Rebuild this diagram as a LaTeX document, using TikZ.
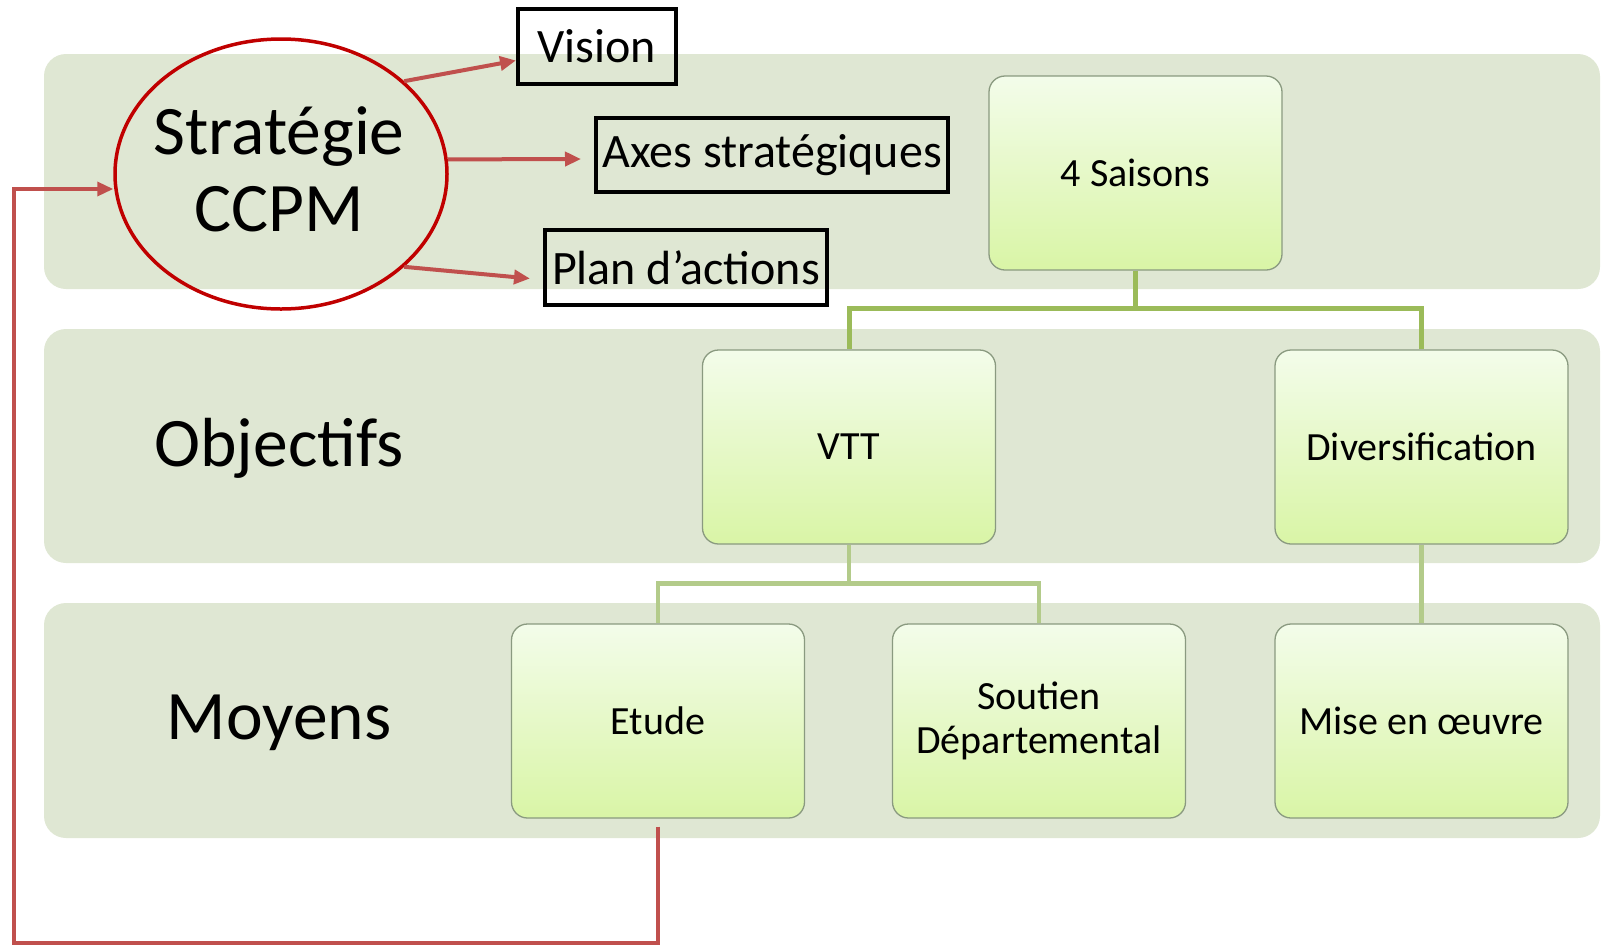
\documentclass[tikz,border=0pt]{standalone}
\usepackage{fontspec}
\setmainfont{Carlito}
\usetikzlibrary{shapes.geometric,arrows.meta,calc}
\definecolor{bandc}{HTML}{DFE7D3}
\definecolor{redc}{HTML}{C00000}
\definecolor{arrc}{HTML}{C0504D}
\definecolor{gone}{HTML}{9BBB59}
\definecolor{gtwo}{HTML}{B3CB8A}
\definecolor{boxtop}{HTML}{F3FCEA}
\definecolor{boxbot}{HTML}{D9F5A6}
\definecolor{boxline}{HTML}{8A9A80}
\tikzset{
  band/.style={fill=bandc, rounded corners=22pt},
  gbox/.style={draw=boxline, line width=1.3pt, rounded corners=16pt,
    top color=boxtop, bottom color=boxbot, minimum width=293pt,
    minimum height=194pt, inner sep=0pt, align=center,
    font=\fontsize{40}{44}\selectfont},
  tbox/.style={draw=black, line width=4pt, inner sep=0pt,
    font=\fontsize{48}{56}\selectfont},
  bigtxt/.style={font=\fontsize{69.5}{77}\selectfont, align=center},
  redarr/.style={draw=arrc, line width=4pt,
    -{Triangle[length=16pt,width=14pt]}},
  conone/.style={draw=gone, line width=5pt},
  contwo/.style={draw=gtwo, line width=4.5pt},
}
\begin{document}
\begin{tikzpicture}[x=1pt,y=-1pt]
\useasboundingbox (0,0) rectangle (1603,946);
% bands
\fill[band] (44,54) rectangle (1600,289);
\fill[band] (44,329) rectangle (1600,563);
\fill[band] (44,603) rectangle (1600,838);
% left labels
\node[draw=redc, line width=3.5pt, ellipse, minimum width=332pt,
  minimum height=270pt, inner sep=0pt] (strat) at (281,174) {};
\node[bigtxt] (strattxt) at (279,169) {Stratégie\\CCPM};
\node[bigtxt] (obj) at (279,448) {Objectifs};
\node[bigtxt] (moy) at (279,723) {Moyens};
% text boxes
\node[tbox, minimum width=158pt, minimum height=75pt] (vision) at (597,46.5) {Vision};
\node[tbox, minimum width=352pt, minimum height=74pt] (axes) at (772,155) {Axes stratégiques};
\node[tbox, minimum width=282pt, minimum height=75pt] (plan) at (686,267.5) {Plan d’actions};
% hierarchy boxes
\node[gbox] (saisons) at (1135.5,173) {4 Saisons};
\node[gbox] (vtt) at (849,447) {VTT};
\node[gbox] (div) at (1421.5,447) {Diversification};
\node[gbox] (etude) at (658,721) {Etude};
\node[gbox] (soutien) at (1039,721) {Soutien\\Départemental};
\node[gbox] (mise) at (1421.5,721) {Mise en œuvre};
% green connectors
\draw[conone] (saisons.south) -- ++(0,38) -| (vtt.north);
\draw[conone] (saisons.south) -- ++(0,38) -| (div.north);
\draw[contwo] (vtt.south) -- ++(0,39) -| (etude.north);
\draw[contwo] (vtt.south) -- ++(0,39) -| (soutien.north);
\draw[contwo] (div.south) -- (mise.north);
% red arrows
\draw[redarr] (strat.37) -- ($(vision.west)+(0,14)$);
\draw[redarr] (strat.5) -- ($(axes.west)+(-13,4)$);
\draw[redarr] (strat.-37) -- ($(plan.west)+(-13,11)$);
% feedback
\coordinate (fbl) at (14,943);
\coordinate (fbt) at (14,189);
\draw[redarr, line width=3.5pt] ($(etude.south)+(0,8)$) |- (fbl) -- (fbt) -- (strat.west |- fbt);
\end{tikzpicture}
\end{document}
